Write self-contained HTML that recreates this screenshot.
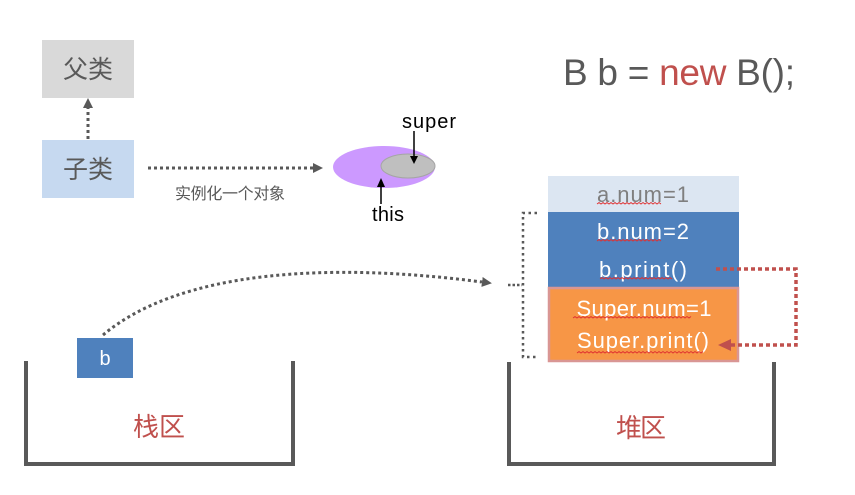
<!DOCTYPE html>
<html><head><meta charset="utf-8"><style>
html,body{margin:0;padding:0;background:#fff;}
svg{display:block;}
text{font-family:"Liberation Sans","Noto Sans CJK SC",sans-serif;}
</style></head><body>
<svg width="855" height="495" viewBox="0 0 855 495" xmlns="http://www.w3.org/2000/svg">
<defs>
<marker id="ag" markerWidth="10" markerHeight="10" refX="0" refY="5" orient="auto" markerUnits="userSpaceOnUse">
<path d="M0,0 L10,5 L0,10 Z" fill="#595959"/>
</marker>
</defs>
<rect width="855" height="495" fill="#fff"/>

<!-- 父类 / 子类 -->
<rect x="42" y="40" width="92" height="58" fill="#d9d9d9"/>
<text x="88" y="78" font-size="25" fill="#595959" text-anchor="middle" textLength="50">父类</text>
<rect x="42" y="140" width="92" height="58" fill="#c6d9f0"/>
<text x="88" y="178" font-size="25" fill="#595959" text-anchor="middle" textLength="50">子类</text>
<line x1="88" y1="139" x2="88" y2="108" stroke="#595959" stroke-width="3" stroke-dasharray="3 3" marker-end="url(#ag)"/>
<line x1="148" y1="168" x2="313" y2="168" stroke="#595959" stroke-width="3" stroke-dasharray="3 3" marker-end="url(#ag)"/>
<text x="175" y="199" font-size="16" fill="#595959" textLength="110">实例化一个对象</text>

<!-- ellipses -->
<ellipse cx="384" cy="167" rx="51" ry="21" fill="#cc99ff"/>
<ellipse cx="408" cy="166" rx="27" ry="12" fill="#bfbfbf" stroke="#a5a5a5" stroke-width="1"/>
<text x="402" y="128" font-size="20" fill="#000" textLength="54">super</text>
<line x1="414" y1="131" x2="414" y2="157" stroke="#000" stroke-width="1.5"/>
<path d="M410,156 L418,156 L414,164 Z" fill="#000"/>
<line x1="381" y1="186" x2="381" y2="204" stroke="#000" stroke-width="1.5"/>
<path d="M377,187 L385,187 L381,178 Z" fill="#000"/>
<text x="372" y="221" font-size="20" fill="#000" textLength="32">this</text>

<!-- title -->
<text x="563" y="85" font-size="37" fill="#595959" textLength="232">B b = <tspan fill="#c0504d">new</tspan> B();</text>

<!-- heap object -->
<rect x="548" y="176" width="191" height="36" fill="#dce6f2"/>
<rect x="548" y="212" width="191" height="75" fill="#4f81bd"/>
<rect x="549" y="288" width="189" height="73" fill="#f79646" stroke="#d99694" stroke-width="2.5"/>
<text x="643" y="202" font-size="22" fill="#7f7f7f" text-anchor="middle" textLength="92">a.num=1</text>
<text x="643" y="239" font-size="22" fill="#fff" text-anchor="middle" textLength="92">b.num=2</text>
<text x="643" y="277" font-size="22" fill="#fff" text-anchor="middle" textLength="88">b.print()</text>
<text x="644" y="316" font-size="22" fill="#fff" text-anchor="middle" textLength="135">Super.num=1</text>
<text x="643" y="348" font-size="22" fill="#fff" text-anchor="middle" textLength="132">Super.print()</text>
<g fill="none" stroke="#e03030" stroke-width="0.9">
<path d="M597,204 l2,-1.5 l2,1.5 l2,-1.5 l2,1.5 l2,-1.5 l2,1.5 l2,-1.5 l2,1.5 l2,-1.5 l2,1.5 l2,-1.5 l2,1.5 l2,-1.5 l2,1.5 l2,-1.5 l2,1.5 l2,-1.5 l2,1.5 l2,-1.5 l2,1.5 l2,-1.5 l2,1.5 l2,-1.5 l2,1.5 l2,-1.5 l2,1.5 l2,-1.5 l2,1.5 l2,-1.5 l2,1.5 l2,-1.5 l2,1.5"/>
<path d="M597,241 l2,-1.5 l2,1.5 l2,-1.5 l2,1.5 l2,-1.5 l2,1.5 l2,-1.5 l2,1.5 l2,-1.5 l2,1.5 l2,-1.5 l2,1.5 l2,-1.5 l2,1.5 l2,-1.5 l2,1.5 l2,-1.5 l2,1.5 l2,-1.5 l2,1.5 l2,-1.5 l2,1.5 l2,-1.5 l2,1.5 l2,-1.5 l2,1.5 l2,-1.5 l2,1.5 l2,-1.5 l2,1.5 l2,-1.5 l2,1.5"/>
<path d="M600,279 l2,-1.5 l2,1.5 l2,-1.5 l2,1.5 l2,-1.5 l2,1.5 l2,-1.5 l2,1.5 l2,-1.5 l2,1.5 l2,-1.5 l2,1.5 l2,-1.5 l2,1.5 l2,-1.5 l2,1.5 l2,-1.5 l2,1.5 l2,-1.5 l2,1.5 l2,-1.5 l2,1.5 l2,-1.5 l2,1.5 l2,-1.5 l2,1.5 l2,-1.5 l2,1.5 l2,-1.5 l2,1.5 l2,-1.5 l2,1.5 l2,-1.5 l2,1.5 l2,-1.5 l2,1.5"/>
<path d="M573,318 l2,-1.5 l2,1.5 l2,-1.5 l2,1.5 l2,-1.5 l2,1.5 l2,-1.5 l2,1.5 l2,-1.5 l2,1.5 l2,-1.5 l2,1.5 l2,-1.5 l2,1.5 l2,-1.5 l2,1.5 l2,-1.5 l2,1.5 l2,-1.5 l2,1.5 l2,-1.5 l2,1.5 l2,-1.5 l2,1.5 l2,-1.5 l2,1.5 l2,-1.5 l2,1.5 l2,-1.5 l2,1.5 l2,-1.5 l2,1.5 l2,-1.5 l2,1.5 l2,-1.5 l2,1.5 l2,-1.5 l2,1.5 l2,-1.5 l2,1.5 l2,-1.5 l2,1.5 l2,-1.5 l2,1.5 l2,-1.5 l2,1.5 l2,-1.5 l2,1.5 l2,-1.5 l2,1.5 l2,-1.5 l2,1.5 l2,-1.5 l2,1.5 l2,-1.5 l2,1.5 l2,-1.5 l2,1.5 l2,-1.5"/>
<path d="M577,353 l2,-1.5 l2,1.5 l2,-1.5 l2,1.5 l2,-1.5 l2,1.5 l2,-1.5 l2,1.5 l2,-1.5 l2,1.5 l2,-1.5 l2,1.5 l2,-1.5 l2,1.5 l2,-1.5 l2,1.5 l2,-1.5 l2,1.5 l2,-1.5 l2,1.5 l2,-1.5 l2,1.5 l2,-1.5 l2,1.5 l2,-1.5 l2,1.5 l2,-1.5 l2,1.5 l2,-1.5 l2,1.5 l2,-1.5 l2,1.5 l2,-1.5 l2,1.5 l2,-1.5 l2,1.5 l2,-1.5 l2,1.5 l2,-1.5 l2,1.5 l2,-1.5 l2,1.5 l2,-1.5 l2,1.5 l2,-1.5 l2,1.5 l2,-1.5 l2,1.5 l2,-1.5 l2,1.5 l2,-1.5 l2,1.5 l2,-1.5 l2,1.5 l2,-1.5 l2,1.5 l2,-1.5 l2,1.5 l2,-1.5 l2,1.5 l2,-1.5 l2,1.5 l2,-1.5"/>
</g>

<!-- red connector -->
<path d="M716,269 L796,269 L796,345 L731,345" fill="none" stroke="#c0504d" stroke-width="3.5" stroke-dasharray="4 3"/>
<path d="M718,345 L731,339 L731,351 Z" fill="#c0504d"/>

<!-- left dotted bracket -->
<path d="M537,213 L523,213 L523,357 L537,357" fill="none" stroke="#595959" stroke-width="2.5" stroke-dasharray="2.5 3.5"/>
<line x1="508" y1="285" x2="522" y2="285" stroke="#595959" stroke-width="2.5" stroke-dasharray="2.5 2"/>

<!-- curved arrow from b -->
<path d="M103,335 C180,270 330,262 482,282" fill="none" stroke="#595959" stroke-width="3" stroke-dasharray="3 3" marker-end="url(#ag)"/>

<!-- stack -->
<rect x="77" y="338" width="56" height="40" fill="#4f81bd"/>
<text x="105" y="365" font-size="20" fill="#fff" text-anchor="middle">b</text>
<path d="M26,361 L26,464 L293,464 L293,361" fill="none" stroke="#595959" stroke-width="4"/>
<text x="133" y="436" font-size="26" fill="#c0504d" textLength="52">栈区</text>

<!-- heap -->
<path d="M509,362 L509,464 L774,464 L774,362" fill="none" stroke="#595959" stroke-width="4"/>
<text x="616" y="437" font-size="26" fill="#c0504d" textLength="50">堆区</text>
</svg>
</body></html>
